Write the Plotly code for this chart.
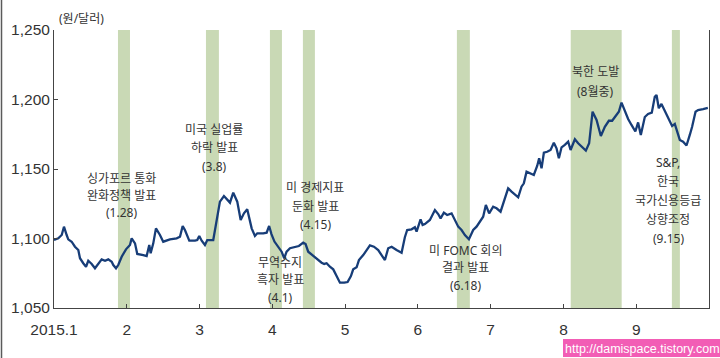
import plotly.graph_objects as go

# time in months since 2015-01-01 (0 = Jan 1, 1 = Feb 1, ...)
month_pos = [0, 0.059, 0.106, 0.137, 0.174, 0.196, 0.243, 0.288, 0.334, 0.357, 0.402, 0.440, 0.471, 0.518, 0.563, 0.609, 0.655, 0.701, 0.746, 0.793, 0.815, 0.852, 0.883, 0.930, 0.989, 1.044, 1.067, 1.113, 1.144, 1.227, 1.273, 1.309, 1.328, 1.364, 1.401, 1.456, 1.501, 1.593, 1.685, 1.731, 1.768, 1.799, 1.859, 1.937, 1.968, 1.996, 2.029, 2.074, 2.106, 2.188, 2.235, 2.280, 2.335, 2.418, 2.463, 2.518, 2.565, 2.610, 2.655, 2.716, 2.761, 2.793, 2.875, 2.922, 2.956, 2.988, 3.029, 3.081, 3.128, 3.163, 3.196, 3.242, 3.310, 3.365, 3.424, 3.457, 3.493, 3.562, 3.630, 3.677, 3.713, 3.746, 3.791, 3.837, 3.883, 3.929, 3.988, 4.034, 4.080, 4.111, 4.158, 4.190, 4.249, 4.295, 4.341, 4.396, 4.455, 4.501, 4.547, 4.592, 4.639, 4.707, 4.776, 4.821, 4.853, 4.913, 4.959, 4.982, 5.037, 5.065, 5.096, 5.165, 5.234, 5.279, 5.312, 5.357, 5.402, 5.463, 5.508, 5.554, 5.600, 5.646, 5.701, 5.760, 5.806, 5.865, 5.897, 5.934, 5.979, 6.034, 6.081, 6.136, 6.181, 6.240, 6.287, 6.332, 6.378, 6.424, 6.456, 6.493, 6.538, 6.593, 6.639, 6.666, 6.699, 6.731, 6.776, 6.823, 6.868, 6.905, 6.937, 6.974, 7.019, 7.065, 7.098, 7.157, 7.202, 7.249, 7.308, 7.353, 7.400, 7.455, 7.514, 7.569, 7.624, 7.669, 7.716, 7.761, 7.798, 7.843, 7.889, 7.935, 7.988, 8.026, 8.063, 8.118, 8.163, 8.214, 8.255, 8.279, 8.310, 8.347, 8.402, 8.448, 8.493, 8.530, 8.567, 8.599, 8.644, 8.691, 8.736, 8.768, 8.815, 8.850, 8.919, 8.984]

krw_usd = [1098.9, 1100.1, 1102.5, 1108.5, 1102.5, 1099.4, 1097.7, 1094.1, 1091.7, 1085.8, 1082.2, 1079.7, 1084.0, 1081.7, 1078.6, 1081.4, 1085.0, 1084.0, 1085.0, 1083.3, 1080.9, 1078.6, 1080.9, 1086.9, 1092.2, 1095.3, 1100.1, 1096.5, 1088.9, 1088.1, 1087.4, 1095.3, 1089.4, 1096.5, 1107.3, 1102.5, 1097.7, 1099.4, 1100.1, 1101.3, 1109.0, 1106.1, 1098.4, 1098.4, 1098.9, 1101.8, 1098.4, 1095.3, 1098.9, 1098.9, 1113.3, 1126.5, 1130.6, 1125.8, 1133.0, 1126.5, 1113.3, 1118.1, 1121.0, 1107.3, 1101.8, 1103.7, 1103.7, 1104.2, 1109.0, 1103.2, 1097.8, 1094.1, 1090.5, 1085.8, 1090.5, 1093.0, 1093.7, 1094.6, 1097.0, 1096.0, 1090.5, 1087.4, 1084.5, 1082.6, 1081.7, 1082.2, 1079.7, 1077.8, 1073.0, 1068.2, 1068.2, 1068.7, 1073.0, 1077.8, 1079.3, 1084.5, 1088.1, 1091.2, 1095.0, 1094.1, 1091.7, 1088.1, 1084.5, 1093.0, 1094.1, 1091.7, 1089.8, 1100.9, 1106.1, 1106.6, 1108.1, 1104.9, 1113.8, 1109.7, 1110.4, 1113.3, 1120.5, 1117.6, 1114.5, 1118.6, 1116.9, 1118.1, 1113.3, 1108.5, 1106.1, 1102.5, 1099.4, 1106.1, 1108.5, 1112.6, 1115.7, 1124.1, 1118.1, 1122.9, 1121.7, 1119.3, 1126.5, 1136.1, 1133.7, 1131.3, 1129.6, 1137.3, 1139.7, 1148.1, 1146.9, 1145.7, 1152.2, 1157.7, 1150.5, 1161.7, 1162.4, 1163.7, 1168.9, 1164.9, 1157.7, 1165.6, 1167.3, 1169.6, 1163.7, 1171.4, 1168.5, 1166.0, 1163.2, 1168.5, 1191.2, 1185.3, 1173.7, 1180.4, 1184.7, 1184.7, 1187.6, 1191.2, 1197.8, 1191.2, 1186.0, 1181.7, 1177.0, 1183.5, 1174.5, 1187.4, 1189.6, 1190.5, 1202.0, 1203.2, 1193.7, 1196.8, 1191.2, 1185.8, 1180.9, 1182.4, 1176.8, 1170.9, 1169.6, 1166.9, 1174.5, 1180.4, 1191.2, 1192.4, 1193.0, 1193.9]

# event bands (months since Jan 1)
band_start = [0.879, 2.088, 2.967, 3.420, 5.536, 7.100, 8.490]
band_end = [1.044, 2.266, 3.132, 3.585, 5.714, 7.800, 8.600]

tick_pos = [0, 1, 2, 3, 4, 5, 6, 7, 8]
tick_text = ["2015.1", "2", "3", "4", "5", "6", "7", "8", "9"]
y_ticks = [1050, 1100, 1150, 1200, 1250]

event_labels = [
    ["싱가포르 통화", "완화정책 발표", "(1.28)"],
    ["미국 실업률", "하락 발표", "(3.8)"],
    ["무역수지", "흑자 발표", "(4.1)"],
    ["미 경제지표", "둔화 발표", "(4.15)"],
    ["미 FOMC 회의", "결과 발표", "(6.18)"],
    ["북한 도발", "(8월중)"],
    ["S&P,", "한국", "국가신용등급", "상향조정", "(9.15)"],
]

W, H = 720, 358
L, R, T, B = 54, 11, 30, 50
PW, PH = W - L - R, H - T - B

def px(xp):
    return (xp - L) / PW

def py(yp):
    return (H - B - yp) / PH

# label layout: (center x px, first-line center y px, line spacing px)
label_layout = [
    (121, 178, 17.3),
    (214, 129, 18.8),
    (280, 262, 17.5),
    (315, 187.5, 18.5),
    (465, 250, 17.5),
    (595, 72, 19),
    (668, 162, 19.1),
]

fig = go.Figure()

shapes = []
for s, e in zip(band_start, band_end):
    shapes.append(dict(type="rect", xref="x", yref="y", x0=s, x1=e, y0=1050, y1=1250,
                       fillcolor="#c9d9b5", line=dict(width=0), layer="below"))
# left frame line of the picture
shapes.append(dict(type="line", xref="paper", yref="paper", x0=px(1.5), x1=px(1.5),
                   y0=py(0), y1=py(H), line=dict(color="#5a5a5a", width=1.5)))
# watermark box
shapes.append(dict(type="rect", xref="paper", yref="paper", x0=px(563), x1=px(721),
                   y0=py(357), y1=py(339), fillcolor="#f25db5", line=dict(width=0)))

fig.add_trace(go.Scatter(x=month_pos, y=krw_usd, mode="lines",
                         line=dict(color="#173d78", width=2.3), hoverinfo="skip",
                         showlegend=False))

annotations = []
kfont = dict(family="Noto Sans, Noto Sans CJK KR, sans-serif", size=12, color="#333333")
for lines, (cx, cy, sp) in zip(event_labels, label_layout):
    for i, ln in enumerate(lines):
        annotations.append(dict(text=ln, xref="paper", yref="paper", x=px(cx), y=py(cy + i * sp),
                                xanchor="center", yanchor="middle", showarrow=False, font=kfont))

annotations.append(dict(text="(원/달러)", xref="paper", yref="paper", x=px(57), y=py(18),
                        xanchor="left", yanchor="middle", showarrow=False, font=kfont))
annotations.append(dict(text="http://damispace.tistory.com", xref="paper", yref="paper",
                        x=px(642), y=py(348.5), xanchor="center", yanchor="middle",
                        showarrow=False,
                        font=dict(family="Liberation Sans", size=12.5, color="#ffffff")))

tfont = dict(family="Liberation Sans, Arial, sans-serif", size=15.5, color="#333333")
fig.update_layout(
    width=W, height=H,
    margin=dict(l=L, r=R, t=T, b=B, autoexpand=False),
    paper_bgcolor="white", plot_bgcolor="white",
    shapes=shapes, annotations=annotations,
    xaxis=dict(range=[0, 9], tickmode="array", tickvals=tick_pos, ticktext=tick_text,
               ticks="inside", ticklen=4, tickcolor="#444444", showline=True,
               linecolor="#444444", linewidth=1, showgrid=False, zeroline=False,
               tickfont=tfont, ticklabelstandoff=7),
    yaxis=dict(range=[1050, 1250], tickmode="array", tickvals=y_ticks, tickformat=",d",
               ticks="inside", ticklen=4, tickcolor="#444444", showline=True, mirror=True,
               linecolor="#444444", linewidth=1, showgrid=False, zeroline=False,
               tickfont=tfont, ticklabelstandoff=0),
)

fig.write_html("out.html", config={"displayModeBar": False},
               post_script="document.body.style.margin='0';document.body.style.overflow='hidden';")
